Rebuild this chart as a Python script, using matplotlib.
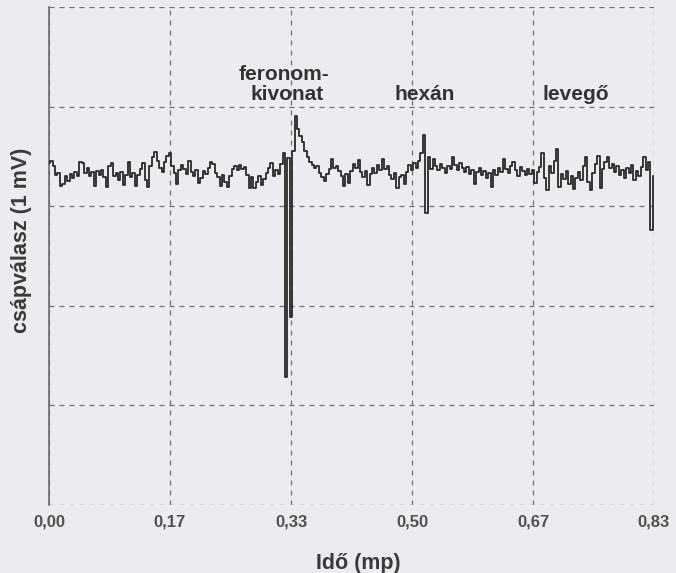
import matplotlib
matplotlib.use("Agg")
import matplotlib.pyplot as plt
import numpy as np

plt.rcParams['font.family'] = ['Liberation Sans', 'DejaVu Sans']

# csápválasz (EAG) minták, 300 minta / mp
mintavetel = 300
valasz = [
    3.43, 3.45, 3.40, 3.31, 3.33, 3.20, 3.22, 3.30, 3.25, 3.32,
    3.28, 3.34, 3.30, 3.44, 3.43, 3.33, 3.38, 3.30, 3.34, 3.20,
    3.35, 3.31, 3.36, 3.29, 3.19, 3.40, 3.43, 3.30, 3.33, 3.26,
    3.34, 3.21, 3.31, 3.44, 3.29, 3.33, 3.20, 3.31, 3.37, 3.43,
    3.26, 3.19, 3.40, 3.49, 3.54, 3.45, 3.38, 3.34, 3.44, 3.50,
    3.53, 3.40, 3.33, 3.22, 3.36, 3.41, 3.37, 3.32, 3.45, 3.34,
    3.30, 3.36, 3.23, 3.28, 3.35, 3.32, 3.38, 3.44, 3.42, 3.33,
    3.29, 3.20, 3.31, 3.24, 3.19, 3.30, 3.37, 3.40, 3.36, 3.41,
    3.37, 3.39, 3.31, 3.18, 3.29, 3.18, 3.24, 3.30, 3.21, 3.27,
    3.33, 3.38, 3.43, 3.30, 3.36, 3.32, 3.42, 3.53, 1.29, 3.48,
    1.89, 3.55, 3.91, 3.78, 3.70, 3.64, 3.55, 3.49, 3.44, 3.41,
    3.38, 3.40, 3.33, 3.29, 3.25, 3.32, 3.37, 3.47, 3.38, 3.40,
    3.35, 3.30, 3.20, 3.32, 3.23, 3.35, 3.42, 3.38, 3.46, 3.34,
    3.29, 3.35, 3.21, 3.32, 3.38, 3.33, 3.41, 3.36, 3.47, 3.37,
    3.40, 3.31, 3.27, 3.33, 3.18, 3.29, 3.31, 3.22, 3.34, 3.41,
    3.36, 3.43, 3.38, 3.45, 3.53, 3.71, 2.93, 3.49, 3.37, 3.47,
    3.40, 3.36, 3.42, 3.38, 3.33, 3.40, 3.37, 3.49, 3.41, 3.36,
    3.43, 3.38, 3.34, 3.39, 3.32, 3.36, 3.22, 3.34, 3.38, 3.31,
    3.35, 3.28, 3.33, 3.19, 3.36, 3.31, 3.38, 3.34, 3.47, 3.37,
    3.33, 3.40, 3.44, 3.36, 3.30, 3.39, 3.35, 3.31, 3.37, 3.32,
    3.36, 3.23, 3.34, 3.39, 3.53, 3.28, 3.16, 3.40, 3.33, 3.45,
    3.57, 3.19, 3.32, 3.27, 3.35, 3.22, 3.30, 3.17, 3.28, 3.34,
    3.26, 3.40, 3.49, 3.24, 3.16, 3.33, 3.42, 3.50, 3.18, 3.37,
    3.44, 3.49, 3.38, 3.42, 3.34, 3.40, 3.31, 3.36, 3.28, 3.38,
    3.33, 3.41, 3.26, 3.35, 3.30, 3.39, 3.49, 3.36, 3.44, 2.76,
    3.30,
]
ido = np.arange(len(valasz)) / mintavetel

ido_tickek = [0, 1/6, 2/6, 3/6, 4/6, 5/6]
ido_cimkek = ["0,00", "0,17", "0,33", "0,50", "0,67", "0,83"]
y_racs = [0, 1, 2, 3, 4, 5]

# ingerek: (szoveg, ido, magassag)
ingerek = [
    ("feronom-", 0.324, 4.27),
    ("kivonat", 0.328, 4.07),
    ("hexán", 0.517, 4.07),
    ("levegő", 0.726, 4.07),
]

hatter = '#ebecef'
fig = plt.figure(figsize=(6.76, 5.73), dpi=100, facecolor=hatter)
ax = fig.add_axes([49/676, 1 - 505/573, 605/676, 498/573])
ax.set_facecolor(hatter)

ax.plot(ido, valasz, color='#2a2a2a', lw=1.3, drawstyle='steps-mid', zorder=3)

ax.set_xlim(0, 5/6)
ax.set_ylim(0, 5)
ax.set_xticks(ido_tickek)
ax.set_xticklabels(ido_cimkek)
ax.set_yticks(y_racs)
ax.tick_params(axis='y', length=0, labelleft=False)
ax.tick_params(axis='x', length=0, pad=7, labelsize=12, labelcolor='#505050')
for lab in ax.get_xticklabels():
    lab.set_fontweight('bold')

ax.grid(True, color='#707070', lw=0.9, ls=(0, (4, 4)))
for s in ['top', 'right', 'bottom']:
    ax.spines[s].set_visible(False)
ax.spines['left'].set_color('#6a6a6a')
ax.spines['left'].set_linewidth(1.2)

for szoveg, t, h in ingerek:
    ax.text(t, h, szoveg, ha='center', va='baseline', fontsize=15,
            fontweight='bold', color='#333333')

ax.set_xlabel("Idő (mp)", fontsize=15.5, fontweight='bold', color='#3a3a3a')
ax.xaxis.set_label_coords(0.512, -0.096)
ax.set_ylabel("csápválasz (1 mV)", fontsize=15.5, fontweight='bold', color='#3a3a3a')
ax.yaxis.set_label_coords(-0.028, 0.532)

fig.savefig("out.png", dpi=100, facecolor=hatter)
